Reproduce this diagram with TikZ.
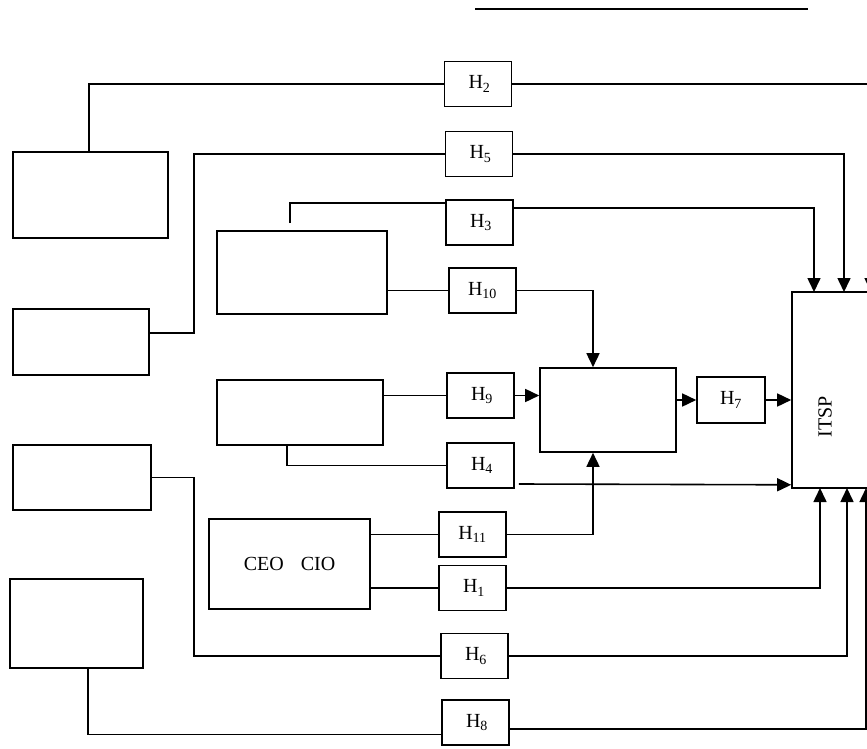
\documentclass[tikz,border=0pt]{standalone}
\usepackage{fontspec}
\setmainfont{Liberation Serif}
\usetikzlibrary{arrows.meta}
\begin{document}
\begin{tikzpicture}[x=1pt,y=-1pt,line width=1.6pt,
  every node/.style={font=\fontsize{20}{23}\selectfont},
  blk/.style={draw,inner sep=0pt},
  hbox/.style={draw,inner sep=0pt,minimum width=67pt,minimum height=45pt},
  arr/.style={-{Triangle[length=14pt,width=13pt]}}]
\useasboundingbox (0,0) rectangle (867,749);
\clip (0,0) rectangle (867,749);
% blocks
\node[blk,minimum width=155pt,minimum height=86pt] (b1) at (90.5,195) {};
\node[blk,minimum width=136pt,minimum height=66pt] (b2) at (81,342) {};
\node[blk,minimum width=138pt,minimum height=65pt] (b3) at (82,477.5) {};
\node[blk,minimum width=133pt,minimum height=89pt] (b4) at (76.5,623.5) {};
\node[blk,minimum width=170pt,minimum height=83pt] (b5) at (302,272.5) {};
\node[blk,minimum width=166pt,minimum height=65pt] (b6) at (300,412.5) {};
\node[blk,minimum width=161pt,minimum height=90pt] (ceo) at (289.5,564) {CEO\hspace{17pt}CIO};
\node[blk,minimum width=136pt,minimum height=84pt] (hub) at (608,410) {};
\node[blk,minimum width=108pt,minimum height=196pt] (itsp) at (846,390) {};
\node[rotate=90] (itsplabel) at (825,417) {ITSP};
% H boxes
\node[hbox] (h2) at (478,84) {\hspace{3pt}H\textsubscript{2}};
\node[hbox] (h5) at (479,154) {\hspace{3pt}H\textsubscript{5}};
\node[hbox] (h3) at (479.5,222.5) {\hspace{3pt}H\textsubscript{3}};
\node[hbox] (h10) at (482.5,290.5) {H\textsubscript{10}};
\node[hbox] (h9) at (480.5,395.5) {\hspace{3pt}H\textsubscript{9}};
\node[hbox] (h4) at (480.5,465.5) {\hspace{3pt}H\textsubscript{4}};
\node[hbox] (h11) at (472.5,534.5) {H\textsubscript{11}};
\node[hbox] (h1) at (472.5,588) {\hspace{3pt}H\textsubscript{1}};
\node[hbox] (h6) at (474.5,656) {\hspace{3pt}H\textsubscript{6}};
\node[hbox] (h8) at (475.5,722.5) {\hspace{3pt}H\textsubscript{8}};
\node[hbox,minimum width=68pt,minimum height=46pt] (h7) at (731,400) {H\textsubscript{7}};
% entry points on ITSP
\coordinate (in3) at (814,292);
\coordinate (in5) at (844,292);
\coordinate (in2) at (871,292);
\coordinate (in1) at (820,488);
\coordinate (in6) at (847,488);
\coordinate (in8) at (866,488);
\coordinate (t1) at (475,9);
\coordinate (t2) at (808,9);
\draw (t1) -- (t2);
% connectors
\draw ([xshift=-1.5pt]b1.north) |- (h2.west);
\draw[arr] (h2.east) -| (in2);
\draw ([yshift=9pt]b2.east) -- ++(44,0) |- (h5.west);
\draw[arr] (h5.east) -| (in5);
\draw ([xshift=-12pt,yshift=7pt]b5.north) |- ([yshift=19.5pt]h3.west);
\draw[arr] ([yshift=14.5pt]h3.east) -| (in3);
\draw (b5.east |- h10.west) -- (h10.west);
\draw[arr] (h10.east) -| ([xshift=-15pt]hub.north);
\draw (b6.east |- h9.west) -- (h9.west);
\draw[arr] (h9.east) -- (hub.west |- h9.east);
\draw[arr] (hub.east |- h7.west) -- (h7.west);
\draw[arr] (h7.east) -- (itsp.west |- h7.east);
\draw ([xshift=-13pt]b6.south) |- (h4.west);
\draw[arr] ([xshift=4pt,yshift=-18.5pt]h4.east) -- ([yshift=4pt]itsp.south west);
\draw (ceo.east |- h11.west) -- (h11.west);
\draw[arr] (h11.east) -| ([xshift=-15pt]hub.south);
\draw (ceo.east |- h1.west) -- (h1.west);
\draw[arr] (h1.east) -| (in1);
\draw (b3.east) -- ++(42,0) |- (h6.west);
\draw[arr] (h6.east) -| (in6);
\draw ([xshift=11.5pt]b4.south) |- ([yshift=-12pt]h8.west);
\draw[arr] ([yshift=-6.5pt]h8.east) -| (in8);
\end{tikzpicture}
\end{document}
